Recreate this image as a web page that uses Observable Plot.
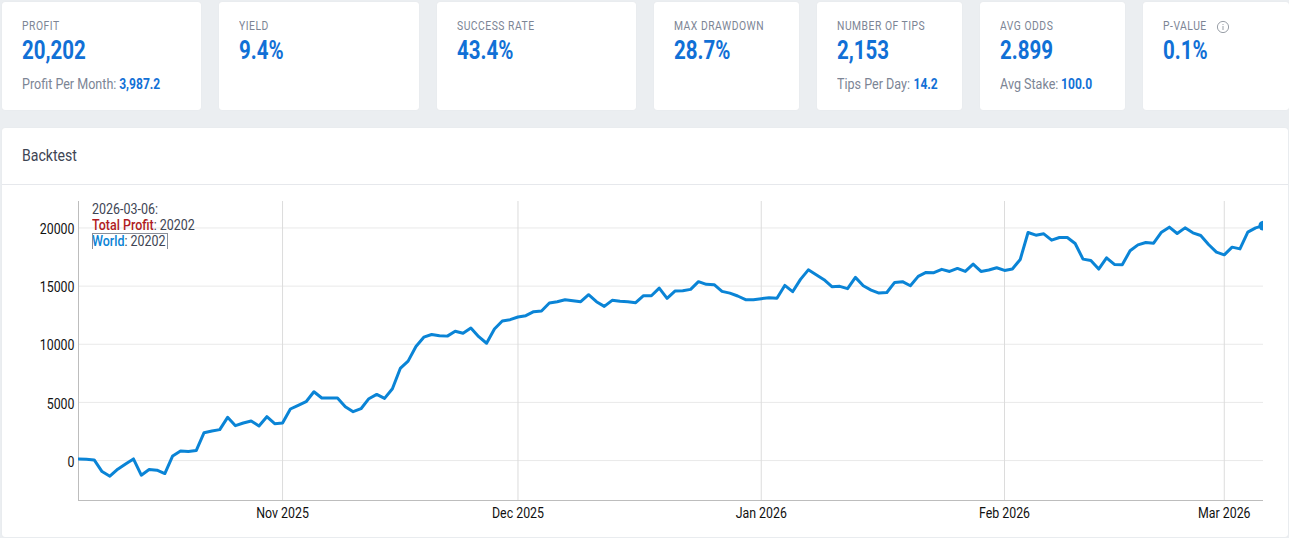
<!DOCTYPE html>
<html>
<head>
<meta charset="utf-8">
<script src="https://cdn.jsdelivr.net/npm/d3@7"></script>
<script src="https://cdn.jsdelivr.net/npm/@observablehq/plot@0.6"></script>
<style>
html,body{margin:0;padding:0;background:#ebeef1;width:1289px;height:538px;overflow:hidden;font-family:Roboto,sans-serif}
.card{position:absolute;top:2px;height:108px;background:#fff;border-radius:3px;box-shadow:0 0 1px rgba(0,0,0,.08)}
.t{position:absolute;white-space:nowrap;transform:scaleX(.86);transform-origin:0 50%;line-height:1}
.lab{top:18px;left:20px;font-size:12px;letter-spacing:.6px;color:#7c8595}
.val{top:36px;left:20px;font-size:25px;font-weight:700;color:#1170d6;transform:scaleX(.82)}
.sub{top:74.5px;left:20px;font-size:14.6px;color:#7c8595}
.sub b{color:#1170d6;font-weight:700;display:inline-block;transform:scaleX(.96);transform-origin:0 50%}
#panel{position:absolute;left:2px;top:128px;width:1286px;height:409px;background:#fff;border-radius:3px;box-shadow:0 0 1px rgba(0,0,0,.08)}
#head{position:absolute;left:0;top:56px;width:100%;height:1px;background:#e6e8ec}
#title{left:20px;top:19.5px;font-size:16.4px;color:#3e4554}
#chart{position:absolute;left:0;top:185px}
#chart svg{display:block;background:transparent}
.tip{position:absolute;left:92px;font-size:14.5px;color:#3e4554;white-space:nowrap;transform:scaleX(.86);transform-origin:0 50%;line-height:16px}
</style>
</head>
<body>
<div id="cards"></div>
<div id="panel"><div id="head"></div><div class="t" id="title">Backtest</div></div>
<div id="chart"></div>
<div class="tip" style="top:202px">2026-03-06:</div>
<div class="tip" style="top:218px"><b style="color:#b01c22;font-weight:500">Total Profit</b>: 20202</div>
<div class="tip" style="top:234px"><b style="color:#0a84d6;font-weight:500">World</b>: 20202</div>
<div style="position:absolute;left:92px;top:233px;width:74px;height:15px;border:1px solid #8a8f99;border-bottom:none;box-sizing:content-box"></div>
<script>
const cardLabels = ["PROFIT","YIELD","SUCCESS RATE","MAX DRAWDOWN","NUMBER OF TIPS","AVG ODDS","P-VALUE"];
const cardValues = ["20,202","9.4%","43.4%","28.7%","2,153","2.899","0.1%"];
const cardSubLabels = ["Profit Per Month:","","","","Tips Per Day:","Avg Stake:",""];
const cardSubValues = ["3,987.2","","","","14.2","100.0",""];
const cardLeft = [2,219,437,654,817,980,1143];
const cardWidth = [199,200,199,145,145,145,146];

const seriesName = "World";
const startDay = "2025-10-06";
const endDay = "2026-03-06";
const profit = [
143,114,57,-944,-1344,-744,-286,143,-1258,-772,-829,-1115,400,829,772,858,2400,2545,2660,3718,
3000,3232,3400,2975,3775,3175,3232,4433,4750,5060,5920,5377,5377,5377,4633,4200,4460,5320,5690,5350,
6180,7920,8550,9810,10610,10840,10725,10700,11125,10950,11400,10650,10086,11315,12000,12116,12345,12460,12800,12860,
13546,13660,13830,13745,13660,14260,13660,13260,13775,13690,13660,13575,14175,14175,14830,13950,14575,14600,14720,15380,
15150,15120,14550,14400,14150,13830,13830,13920,14000,13950,15060,14520,15580,16400,15980,15550,14950,14980,14780,15750,
15030,14660,14400,14450,15320,15380,15030,15835,16180,16150,16440,16260,16520,16260,16890,16260,16380,16580,16350,16465,
17290,19610,19380,19495,18950,19180,19180,18665,17320,17200,16465,17435,16865,16835,18040,18550,18750,18690,19640,20070,
19525,20010,19580,19350,18580,17920,17690,18350,18200,19640,20010,20202];
const yTicks = [0,5000,10000,15000,20000];
const xTicks = ["2025-11-01","2025-12-01","2026-01-01","2026-02-01","2026-03-01"];
const xTickLabels = ["Nov 2025","Dec 2025","Jan 2026","Feb 2026","Mar 2026"];

const cards = d3.select("#cards");
cardLabels.forEach((l,i)=>{
  const c = cards.append("div").attr("class","card").style("left",cardLeft[i]+"px").style("width",cardWidth[i]+"px");
  c.append("div").attr("class","t lab").text(l);
  c.append("div").attr("class","t val").text(cardValues[i]);
  if(cardSubLabels[i]) c.append("div").attr("class","t sub").html(cardSubLabels[i]+" <b>"+cardSubValues[i]+"</b>");
  if(l==="P-VALUE") c.append("div").style("position","absolute").style("left","73px").style("top","17px")
    .html('<svg width="14" height="14"><circle cx="7" cy="7" r="5.6" fill="none" stroke="#9aa0a8"/><rect x="6.5" y="6" width="1" height="4" fill="#9aa0a8"/><rect x="6.5" y="4" width="1" height="1" fill="#9aa0a8"/></svg>');
});

const toDate = s => new Date(s+"T00:00:00Z");
const days = d3.utcDay.range(toDate(startDay), d3.utcDay.offset(toDate(endDay),1));
const rows = days.map((d,i)=>({date:d,value:profit[i],series:seriesName}));
const tickDates = xTicks.map(toDate);
const last = rows[rows.length-1];

const plot = Plot.plot({
  width:1289,height:352,marginLeft:78,marginRight:26,marginTop:16,marginBottom:37,
  style:{background:"transparent",fontFamily:"Roboto, sans-serif",fontSize:"14.4px",overflow:"visible"},
  x:{type:"utc",domain:[toDate(startDay),toDate(endDay)]},
  y:{domain:[-3433,22275]},
  marks:[
    Plot.ruleY(yTicks,{stroke:"#e9e9e9",strokeWidth:1}),
    Plot.ruleX(tickDates,{stroke:"#dcdcdc",strokeWidth:1}),
    Plot.ruleX([toDate(startDay)],{stroke:"#bdbdbd",strokeWidth:1}),
    Plot.ruleY([-3433],{stroke:"#bdbdbd",strokeWidth:1}),
    Plot.line(rows,{x:"date",y:"value",stroke:"#0a84d6",strokeWidth:3,strokeLinejoin:"round",clip:true}),
    Plot.dot([last],{x:"date",y:"value",r:5,fill:"#0a84d6",clip:true}),
    Plot.axisY({ticks:yTicks,tickSize:0,tickPadding:4,dy:1.5,tickFormat:d=>String(d),label:null,fill:"#111"}),
    Plot.axisX({ticks:tickDates,tickSize:0,tickPadding:7,tickFormat:d=>xTickLabels[tickDates.findIndex(t=>+t===+d)],label:null,fill:"#111"})
  ]
});
document.getElementById("chart").appendChild(plot);
d3.select(plot).selectAll("g[aria-label='y-axis tick label'] text, g[aria-label='x-axis tick label'] text").each(function(){
  const t=this.getAttribute("transform")||"";
  this.setAttribute("transform",t+" scale(.86,1)");
});
</script>
</body>
</html>
